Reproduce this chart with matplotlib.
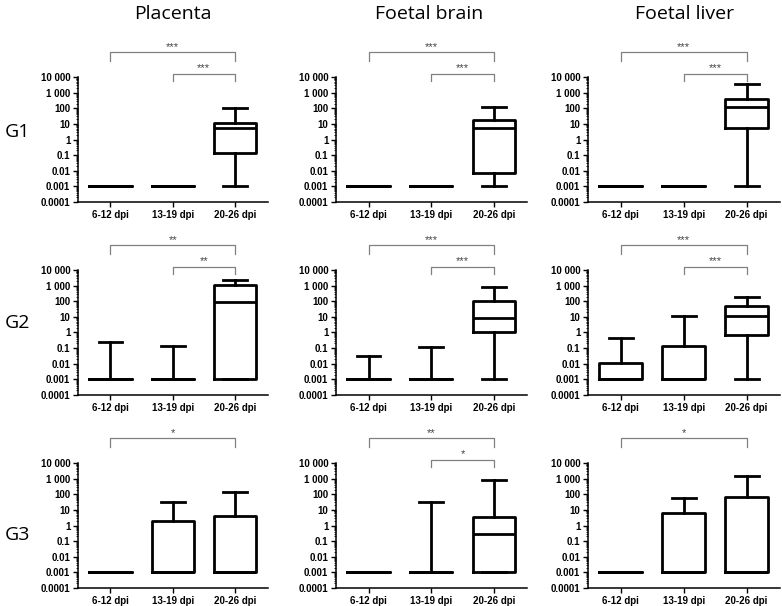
import matplotlib
matplotlib.use("Agg")
import matplotlib.pyplot as plt
from matplotlib.ticker import FixedLocator, LogLocator, NullFormatter

plt.rcParams['font.family'] = ['Liberation Sans', 'DejaVu Sans']

# categories / labels
groups = ["6-12 dpi", "13-19 dpi", "20-26 dpi"]
organs = ["Placenta", "Foetal brain", "Foetal liver"]
rows = ["G1", "G2", "G3"]

yticks = [1e-4, 1e-3, 1e-2, 1e-1, 1, 10, 100, 1000, 10000]
ytick_labels = ["0.0001", "0.001", "0.01", "0.1", "1", "10", "100", "1 000", "10 000"]

# box stats per group: (whisker low, q1, median, q3, whisker high)
g1_placenta = [(0.001, 0.001, 0.001, 0.001, 0.001),
               (0.001, 0.001, 0.001, 0.001, 0.001),
               (0.001, 0.13, 5.3, 11, 100)]
g1_brain = [(0.001, 0.001, 0.001, 0.001, 0.001),
            (0.001, 0.001, 0.001, 0.001, 0.001),
            (0.001, 0.0076, 5.6, 16.6, 112)]
g1_liver = [(0.001, 0.001, 0.001, 0.001, 0.001),
            (0.001, 0.001, 0.001, 0.001, 0.001),
            (0.001, 5.3, 118, 390, 3700)]

g2_placenta = [(0.001, 0.001, 0.001, 0.001, 0.23),
               (0.001, 0.001, 0.001, 0.001, 0.14),
               (0.001, 0.001, 85, 1100, 2300)]
g2_brain = [(0.001, 0.001, 0.001, 0.001, 0.033),
            (0.001, 0.001, 0.001, 0.001, 0.117),
            (0.001, 1.0, 8, 108, 770)]
g2_liver = [(0.001, 0.001, 0.001, 0.011, 0.46),
            (0.001, 0.001, 0.001, 0.14, 12),
            (0.001, 0.65, 12, 53, 180)]

g3_placenta = [(0.001, 0.001, 0.001, 0.001, 0.001),
               (0.001, 0.001, 0.001, 1.95, 30),
               (0.001, 0.001, 0.001, 4.0, 130)]
g3_brain = [(0.001, 0.001, 0.001, 0.001, 0.001),
            (0.001, 0.001, 0.001, 0.001, 33),
            (0.001, 0.001, 0.28, 3.7, 800)]
g3_liver = [(0.001, 0.001, 0.001, 0.001, 0.001),
            (0.001, 0.001, 0.001, 6.6, 54),
            (0.001, 0.001, 0.001, 63, 1400)]

# significance: (6-12 vs 20-26, 13-19 vs 20-26)
sig_g1 = [("***", "***"), ("***", "***"), ("***", "***")]
sig_g2 = [("**", "**"), ("***", "***"), ("***", "***")]
sig_g3 = [("*", None), ("**", "*"), ("*", None)]

data = [[g1_placenta, g1_brain, g1_liver],
        [g2_placenta, g2_brain, g2_liver],
        [g3_placenta, g3_brain, g3_liver]]
sigs = [sig_g1, sig_g2, sig_g3]

W, H = 782, 606
fig = plt.figure(figsize=(W / 100, H / 100), dpi=100)

lefts = [78, 336, 588]
rights = [268, 527, 780]
tops = [77, 270, 463]
ah = 125
row_label_y = [132, 323, 535]

lw = 2.0
for r in range(3):
    for c in range(3):
        ax = fig.add_axes([lefts[c] / W, 1 - (tops[r] + ah) / H,
                           (rights[c] - lefts[c]) / W, ah / H])
        stats = [dict(whislo=a, q1=b, med=m, q3=d, whishi=e)
                 for (a, b, m, d, e) in data[r][c]]
        ax.set_yscale('log')
        ax.bxp(stats, positions=[0, 1, 2], widths=0.68, capwidths=0.38,
               showfliers=False,
               boxprops=dict(lw=lw, color='k'),
               whiskerprops=dict(lw=lw, color='k'),
               capprops=dict(lw=lw, color='k'),
               medianprops=dict(lw=lw, color='k'))
        ax.set_ylim(1e-4, 1e4)
        ax.set_xlim(-0.52, 2.53)
        ax.yaxis.set_major_locator(FixedLocator(yticks))
        ax.set_yticklabels(ytick_labels, fontsize=7, fontweight='bold')
        ax.yaxis.set_minor_locator(LogLocator(base=10, subs=range(2, 10), numticks=20))
        ax.yaxis.set_minor_formatter(NullFormatter())
        ax.set_xticks([0, 1, 2])
        ax.set_xticklabels(groups, fontsize=7, fontweight='bold')
        ax.spines['top'].set_visible(False)
        ax.spines['right'].set_visible(False)
        ax.spines['left'].set_linewidth(1.1)
        ax.spines['bottom'].set_linewidth(1.1)
        ax.tick_params(axis='both', which='major', length=3.5, width=1.0, pad=2)
        ax.tick_params(axis='y', which='minor', length=1.8, width=0.6)

        # significance brackets
        s_far, s_near = sigs[r][c]
        gcol = '#808080'
        if s_far:
            ax.plot([0, 0, 2, 2], [10**5.02, 10**5.58, 10**5.58, 10**5.02],
                    color=gcol, lw=0.9, clip_on=False)
            ax.text(1, 10**5.62, s_far, ha='center', va='bottom',
                    fontsize=8, color='#444444')
        if s_near:
            ax.plot([1, 1, 2, 2], [10**3.72, 10**4.2, 10**4.2, 10**3.72],
                    color=gcol, lw=0.9, clip_on=False)
            ax.text(1.5, 10**4.24, s_near, ha='center', va='bottom',
                    fontsize=8, color='#444444')

    fig.text(17 / W, 1 - row_label_y[r] / H, rows[r], ha='center', va='center',
             fontsize=14, family=['Open Sans', 'DejaVu Sans'])

title_x = [173, 429, 685]
for c in range(3):
    fig.text(title_x[c] / W, 1 - 14 / H, organs[c], ha='center', va='center',
             fontsize=14, family=['Open Sans', 'DejaVu Sans'])

fig.savefig("out.png", dpi=100)
